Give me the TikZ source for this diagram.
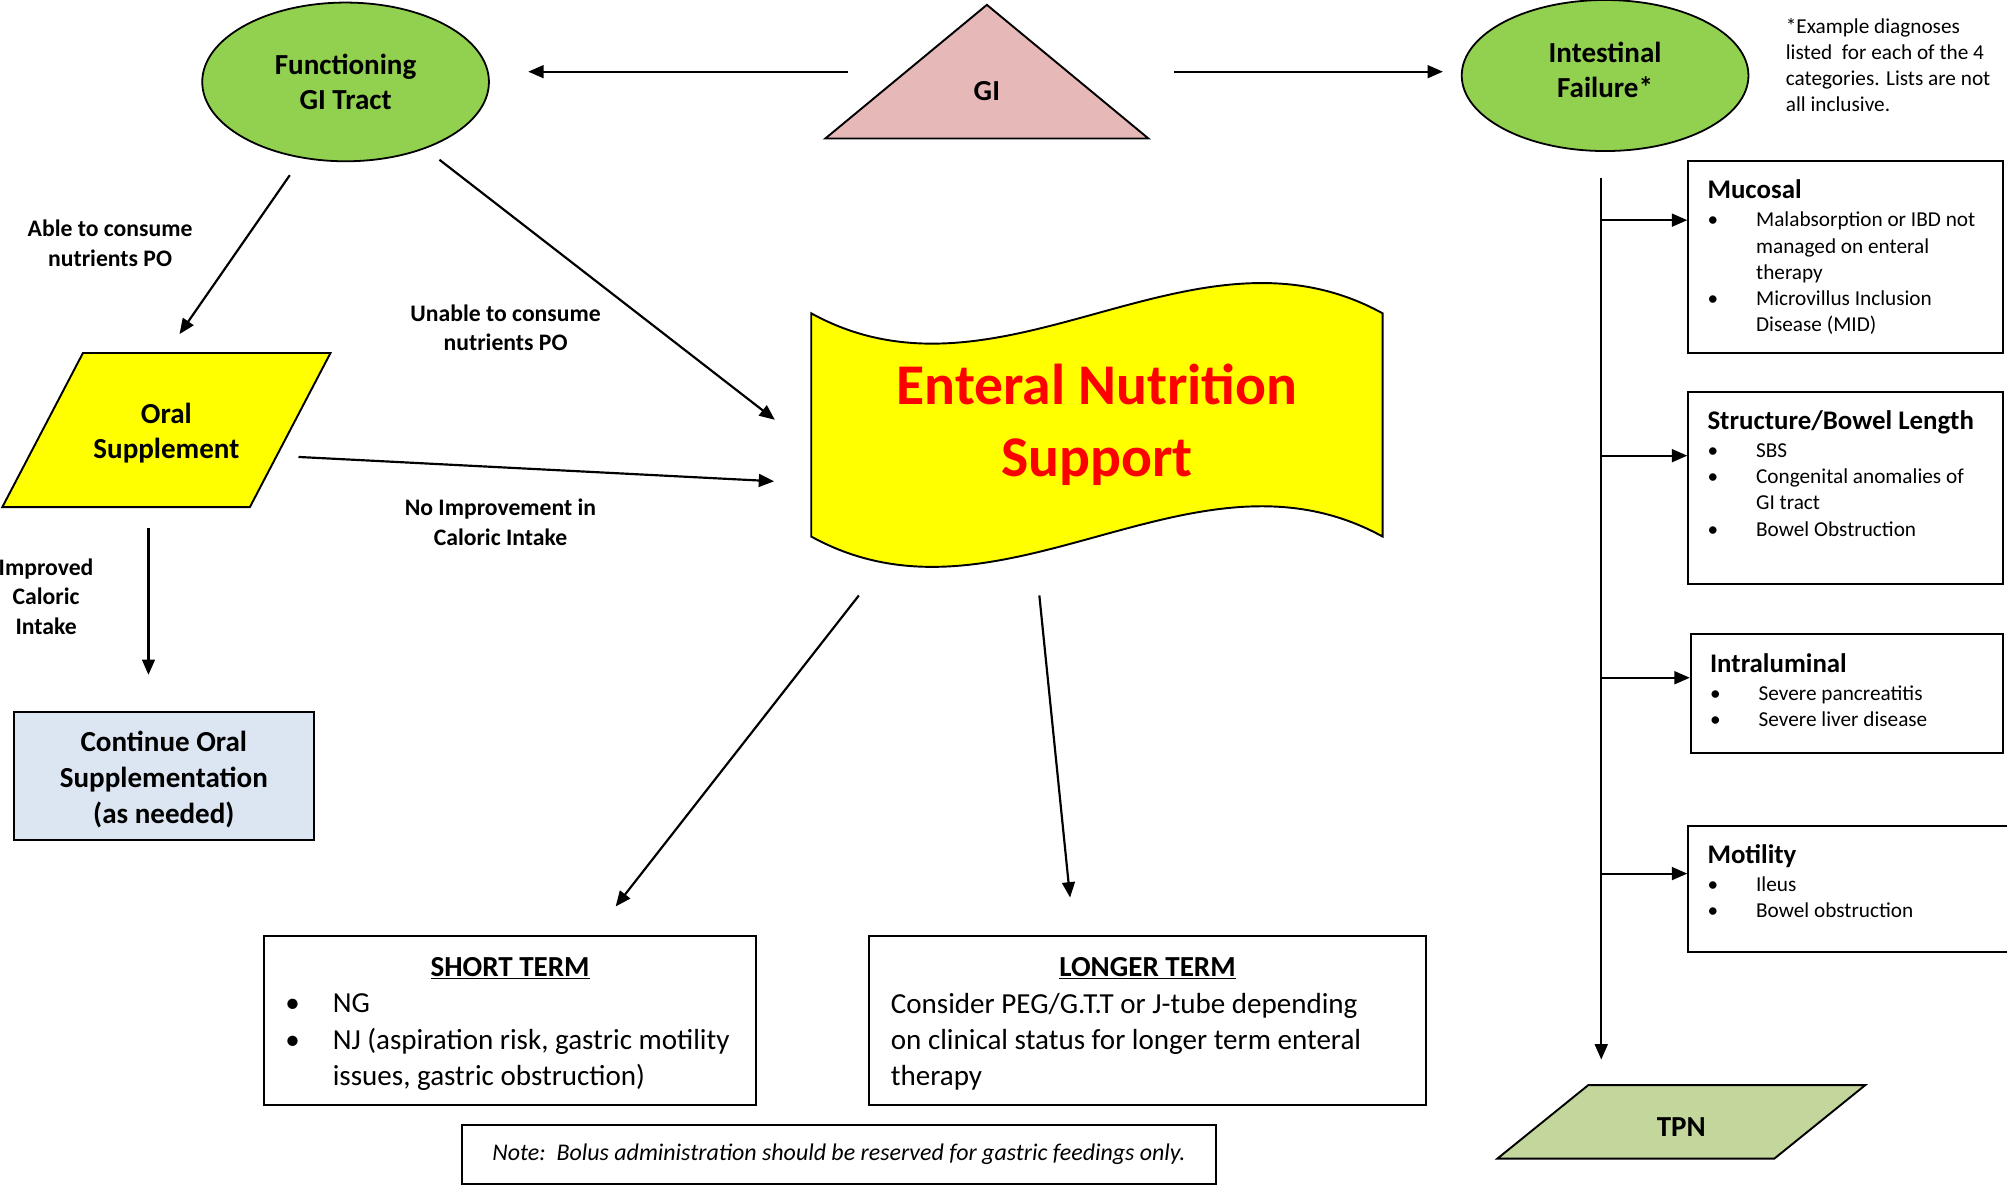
\documentclass[tikz,border=0pt]{standalone}
\usepackage{fontspec}
\setmainfont{Carlito}
\usepackage{xcolor}
\usepackage{tikz}
\usetikzlibrary{arrows.meta,shapes.geometric,backgrounds}
\definecolor{gutGreen}{HTML}{92D050}
\definecolor{giPink}{HTML}{E6B9B8}
\definecolor{flagYellow}{HTML}{FFFF00}
\definecolor{contBlue}{HTML}{DCE6F2}
\definecolor{tpnGreen}{HTML}{C3D69B}
\newcommand{\dxitem}[2][38pt]{\makebox[#1][l]{\textbullet}\mbox{#2}}
\newcommand{\dxmore}[2][38pt]{\hspace*{#1}\mbox{#2}}
\newcommand{\dxhead}[1]{{\fontsize{21}{23}\selectfont\bfseries #1}}

\begin{document}
\begin{tikzpicture}[x=1pt, y=-1pt,
    every node/.style={inner sep=0pt, align=center, font=\fontsize{22.7}{27}\selectfont\bfseries},
    arr/.style={-{Triangle[length=12pt,width=10pt]}, line width=1.7pt},
    oval/.style={ellipse, draw, line width=1.4pt, fill=gutGreen, minimum width=224pt},
    outline/.style={draw, line width=1.5pt},
    lbl/.style={font=\fontsize{18.5}{23}\selectfont\bfseries},
    dxbox/.style={draw, line width=1.6pt, align=flush left, minimum width=246pt, minimum height=150pt, text width=216pt, font=\fontsize{16.6}{20.5}\selectfont},
    termbox/.style={draw, line width=1.6pt, align=flush left, minimum height=132pt, text height=21pt, font=\fontsize{22.7}{28.5}\selectfont}]

\useasboundingbox (0,0) rectangle (1568,926);

% top row
\node[oval, minimum height=124pt] (fgi) at (270,64) {Functioning\\GI Tract};
\node[minimum width=252pt, minimum height=104pt, label={[yshift=-15pt]center:GI}] (gi) at (771,56) {};
\node[oval, minimum height=118pt, text depth=9pt] (ifail) at (1254,59) {Intestinal\\Failure*};
\node[anchor=north west, align=left, font=\fontsize{16.6}{20.5}\selectfont] (remark) at (1395,14)
  {*Example diagnoses\\listed\ \ for each of the 4\\categories. Lists are not\\all inclusive.};

% left branch
\node[minimum width=256pt, minimum height=120pt, text height=48pt] (oral) at (130,336) {Oral\\Supplement};
\node[outline, fill=contBlue, minimum width=234pt, minimum height=100pt, text height=78pt, font=\fontsize{22.7}{28}\selectfont\bfseries] (cont) at (128,606) {Continue Oral\\Supplementation\\(as needed)};
\node[lbl] (ablelbl) at (86,190) {Able to consume\\nutrients PO};
\node[lbl] (unablelbl) at (395,256) {Unable to consume\\nutrients PO};
\node[lbl] (noimplbl) at (391,408) {No Improvement in\\Caloric Intake};
\node[lbl] (improvlbl) at (36,466) {Improved\\Caloric\\Intake};

% centre
\node[minimum width=446pt, minimum height=174pt, text=red, font=\fontsize{45}{56}\selectfont\bfseries] (ens) at (857,332) {Enteral Nutrition\\Support};
\node[termbox, minimum width=385pt, text width=351pt] (short) at (398.5,797)
  {\makebox[351pt]{\underline{\textbf{SHORT TERM}}}\\
   \dxitem[37pt]{NG}\\
   \dxitem[37pt]{NJ (aspiration risk, gastric motility}\\
   \dxmore[37pt]{issues, gastric obstruction)}};
\node[termbox, minimum width=435pt, text width=401pt] (long) at (896.5,797)
  {\makebox[401pt]{\underline{\textbf{LONGER TERM}}}\\
   Consider PEG/G.T.T or J-tube depending\\
   on clinical status for longer term enteral\\
   therapy};
\node[outline, minimum width=589pt, minimum height=46pt, font=\fontsize{18.7}{22}\selectfont\itshape] (bolus) at (655.5,902)
  {Note:\ \ Bolus administration should be reserved for gastric feedings only.};

% diagnoses
\node[dxbox] (muc) at (1442,201)
  {\dxhead{Mucosal}\\[1.5pt]
   \dxitem{Malabsorption or IBD not}\\
   \dxmore{managed on enteral}\\
   \dxmore{therapy}\\
   \dxitem{Microvillus Inclusion}\\
   \dxmore{Disease (MID)}};
\node[dxbox, text depth=106pt] (sbl) at (1442,381)
  {\dxhead{Structure/Bowel Length}\\[1.5pt]
   \dxitem{SBS}\\
   \dxitem{Congenital anomalies of}\\
   \dxmore{GI tract}\\
   \dxitem{Bowel Obstruction}};
\node[dxbox, minimum width=244pt, minimum height=93pt, text width=214pt, text depth=47pt] (intra) at (1443,541.5)
  {\dxhead{Intraluminal}\\[1.5pt]
   \dxitem{Severe pancreatitis}\\
   \dxitem{Severe liver disease}};
\node[dxbox, minimum width=253pt, minimum height=99pt, text width=223pt, text depth=55pt] (mot) at (1445.5,694.5)
  {\dxhead{Motility}\\[1.5pt]
   \dxitem{Ileus}\\
   \dxitem{Bowel obstruction}};
\node[minimum width=287pt, minimum height=57pt, text height=22.6pt] (tpn) at (1313.5,876.5) {TPN};

% shapes behind the texts
\begin{scope}[on background layer]
  \draw[outline, fill=giPink] (gi.south west) -- (gi.north) -- (gi.south east) -- cycle;
  \draw[outline, fill=flagYellow] ([xshift=63pt]oral.north west) -- (oral.north east)
    -- ([xshift=-63pt]oral.south east) -- (oral.south west) -- cycle;
  \draw[outline, fill=flagYellow] (ens.north west) .. controls +(149,82) and +(-149,-82) .. (ens.north east)
    -- (ens.south east) .. controls +(-149,-82) and +(149,82) .. (ens.south west) -- cycle;
  \draw[outline, fill=tpnGreen] ([xshift=71pt]tpn.north west) -- (tpn.north east)
    -- ([xshift=-71pt]tpn.south east) -- (tpn.south west) -- cycle;
\end{scope}

% connectors
\draw[arr, shorten >=30pt] ([xshift=18pt]gi.west) -- (gi.west -| fgi.east);
\draw[arr, shorten >=14pt] ([xshift=20pt]gi.east) -- (gi.east -| ifail.west);
\draw[arr, shorten <=16pt, shorten >=18pt] (fgi.240) -- (oral.north);
\draw[arr, shorten <=14pt, shorten >=36pt] (fgi.320) -- ([yshift=-18pt]ens.west);
\draw[arr] ([shift={(-25,21)}]oral.east) -- ([shift={(-29,44)}]ens.west);
\draw[arr] ([shift={(-14,16)}]oral.south) -- ([shift={(-12,-28)}]cont.north);
\draw[arr] ([shift={(-186,46)}]ens.south) -- ([shift={(82.5,-22)}]short.north);
\draw[arr] ([shift={(-45,46)}]ens.south) -- ([shift={(-60.5,-29)}]long.north);
\draw[arr] ([shift={(-3,20)}]ifail.south) coordinate (trunk) -- ([shift={(-62.5,-20)}]tpn.north);
\foreach \b/\dy in {muc/29,sbl/25,intra/12,mot/12}{
  \coordinate (tip) at ([yshift=\dy pt]\b.west);
  \draw[arr] (trunk |- tip) -- (tip);
}
\end{tikzpicture}
\end{document}
